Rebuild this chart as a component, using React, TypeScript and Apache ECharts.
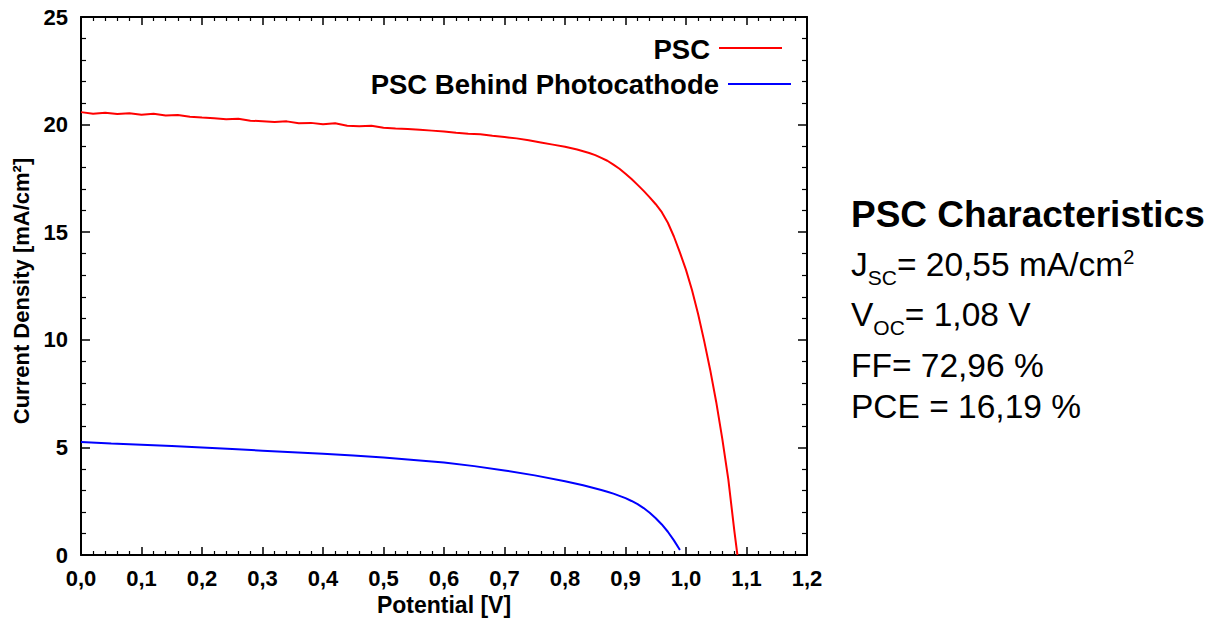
import React, { useEffect, useRef } from 'react';
import * as echarts from 'echarts';

// PSC (red) J-V curve: potential [V], current density [mA/cm2]
const pscV = [0.0, 0.02, 0.04, 0.06, 0.08, 0.1, 0.12, 0.14, 0.16, 0.18, 0.2, 0.22, 0.24, 0.26, 0.28, 0.3, 0.32, 0.34, 0.36, 0.38, 0.4, 0.42, 0.44, 0.46, 0.48, 0.5, 0.52, 0.54, 0.56, 0.58, 0.6, 0.62, 0.64, 0.66, 0.68, 0.7, 0.72, 0.74, 0.76, 0.78, 0.8, 0.82, 0.84, 0.85, 0.86, 0.87, 0.88, 0.89, 0.9, 0.91, 0.92, 0.93, 0.94, 0.95, 0.96, 0.97, 0.98, 0.99, 1.0, 1.01, 1.02, 1.03, 1.04, 1.05, 1.06, 1.07, 1.08, 1.085];
const pscJ = [20.58, 20.5, 20.55, 20.49, 20.53, 20.46, 20.5, 20.42, 20.45, 20.37, 20.33, 20.3, 20.25, 20.27, 20.18, 20.16, 20.12, 20.15, 20.06, 20.08, 20.02, 20.06, 19.95, 19.92, 19.95, 19.85, 19.82, 19.8, 19.76, 19.72, 19.68, 19.62, 19.58, 19.55, 19.48, 19.42, 19.36, 19.27, 19.17, 19.07, 18.97, 18.84, 18.68, 18.58, 18.45, 18.32, 18.14, 17.95, 17.72, 17.47, 17.2, 16.92, 16.62, 16.3, 15.93, 15.44, 14.8, 14.05, 13.25, 12.3, 11.2, 9.95, 8.6, 7.1, 5.4, 3.5, 1.1, 0.0];

// PSC behind photocathode (blue)
const behindV = [0.0, 0.05, 0.1, 0.15, 0.2, 0.25, 0.3, 0.35, 0.4, 0.45, 0.5, 0.55, 0.6, 0.65, 0.7, 0.75, 0.8, 0.83, 0.86, 0.87, 0.88, 0.89, 0.9, 0.91, 0.92, 0.93, 0.94, 0.95, 0.96, 0.97, 0.98, 0.99];
const behindJ = [5.25, 5.18, 5.12, 5.06, 4.99, 4.92, 4.85, 4.78, 4.7, 4.62, 4.53, 4.42, 4.3, 4.13, 3.93, 3.7, 3.43, 3.24, 3.02, 2.94, 2.85, 2.75, 2.64, 2.51, 2.36, 2.18, 1.96, 1.71, 1.42, 1.08, 0.68, 0.23];

const seriesNames = ['PSC', 'PSC Behind Photocathode'];
const xAxisName = 'Potential [V]';
const yAxisName = 'Current Density [mA/cm²]';
const infoTitle = 'PSC Characteristics';
const infoLines = [
  '{n|J}{s|SC}{n|= 20,55 mA/cm}{p|2}',
  '{n|V}{s|OC}{n|= 1,08 V}',
  '{n|FF= 72,96 %}',
  '{n|PCE = 16,19 %}',
];

const FONT = '"Liberation Sans", Arial, sans-serif';

export default function App() {
  const ref = useRef<HTMLDivElement>(null);
  useEffect(() => {
    if (!ref.current) return;
    const chart = echarts.init(ref.current, undefined, { renderer: 'svg' });
    const pairs = (xs: number[], ys: number[]) => xs.map((x, i) => [x, ys[i]]);
    const fmtX = (v: number) => v.toFixed(1).replace('.', ',');
    const commonX = {
      type: 'value' as const,
      min: 0,
      max: 1.2,
      interval: 0.1,
      splitLine: { show: false },
      axisLine: { show: true, onZero: false, lineStyle: { color: '#000', width: 2 } },
      axisTick: { show: true, inside: true, length: 8, lineStyle: { color: '#000', width: 1.5 } },
      minorTick: { show: true, splitNumber: 5, length: 4, lineStyle: { color: '#000', width: 1.2 } },
    };
    const commonY = {
      type: 'value' as const,
      min: 0,
      max: 25,
      interval: 5,
      splitLine: { show: false },
      axisLine: { show: true, onZero: false, lineStyle: { color: '#000', width: 2 } },
      axisTick: { show: true, inside: true, length: 9, lineStyle: { color: '#000', width: 1.5 } },
      minorTick: { show: true, splitNumber: 5, length: 5, lineStyle: { color: '#000', width: 1.2 } },
    };
    const infoX = 851;
    const infoY = [264, 314, 365, 406];
    chart.setOption({
      animation: false,
      backgroundColor: '#fff',
      grid: { left: 81, top: 17, right: 404, bottom: 64, containLabel: false, outerBoundsMode: 'none' },
      xAxis: [
        {
          ...commonX,
          position: 'bottom',
          name: xAxisName,
          nameLocation: 'middle',
          nameGap: 37,
          nameTextStyle: { fontFamily: FONT, fontWeight: 'bold', fontSize: 23, color: '#000' },
          axisLabel: { formatter: fmtX, fontFamily: FONT, fontWeight: 'bold', fontSize: 22, color: '#000', margin: 12 },
        },
        { ...commonX, position: 'top', axisLabel: { show: false } },
      ],
      yAxis: [
        {
          ...commonY,
          position: 'left',
          name: yAxisName,
          nameLocation: 'middle',
          nameGap: 48,
          nameTextStyle: { fontFamily: FONT, fontWeight: 'bold', fontSize: 22, color: '#000', padding: [0, 10, 0, 0] },
          axisLabel: { fontFamily: FONT, fontWeight: 'bold', fontSize: 22, color: '#000', margin: 13 },
        },
        { ...commonY, position: 'right', axisLabel: { show: false } },
      ],
      series: [
        {
          name: seriesNames[0],
          type: 'line',
          data: pairs(pscV, pscJ),
          showSymbol: false,
          symbol: 'none',
          lineStyle: { color: '#ff0000', width: 2 },
          itemStyle: { color: '#ff0000' },
          clip: true,
        },
        {
          name: seriesNames[1],
          type: 'line',
          data: pairs(behindV, behindJ),
          showSymbol: false,
          symbol: 'none',
          lineStyle: { color: '#0000ff', width: 2 },
          itemStyle: { color: '#0000ff' },
          clip: true,
        },
      ],
      graphic: [
        { type: 'text', x: 710, y: 49, style: { text: seriesNames[0], fontFamily: FONT, fontWeight: 'bold', fontSize: 27.5, fill: '#000', align: 'right', verticalAlign: 'middle' } },
        { type: 'line', shape: { x1: 719, y1: 48, x2: 782, y2: 48 }, style: { stroke: '#ff0000', lineWidth: 2 } },
        { type: 'text', x: 719, y: 84, style: { text: seriesNames[1], fontFamily: FONT, fontWeight: 'bold', fontSize: 27.5, fill: '#000', align: 'right', verticalAlign: 'middle' } },
        { type: 'line', shape: { x1: 728, y1: 84, x2: 791, y2: 84 }, style: { stroke: '#0000ff', lineWidth: 2 } },
        { type: 'text', x: infoX, y: 214, style: { text: infoTitle, fontFamily: FONT, fontWeight: 'bold', fontSize: 37, fill: '#000', align: 'left', verticalAlign: 'middle' } },
        ...infoLines.map((t, i) => ({
          type: 'text',
          x: infoX,
          y: infoY[i],
          style: {
            text: t,
            align: 'left',
            verticalAlign: 'middle',
            fill: '#000',
            rich: {
              n: { fontFamily: FONT, fontSize: 33.5, color: '#000' },
              s: { fontFamily: FONT, fontSize: 21, color: '#000', padding: [26, 0, 0, 0] },
              p: { fontFamily: FONT, fontSize: 20, color: '#000', padding: [0, 0, 14, 0] },
            },
          },
        })),
      ],
    });
    return () => chart.dispose();
  }, []);
  return <div ref={ref} style={{ position: 'fixed', left: 0, top: 0, width: 1211, height: 619, background: '#fff' }} />;
}
